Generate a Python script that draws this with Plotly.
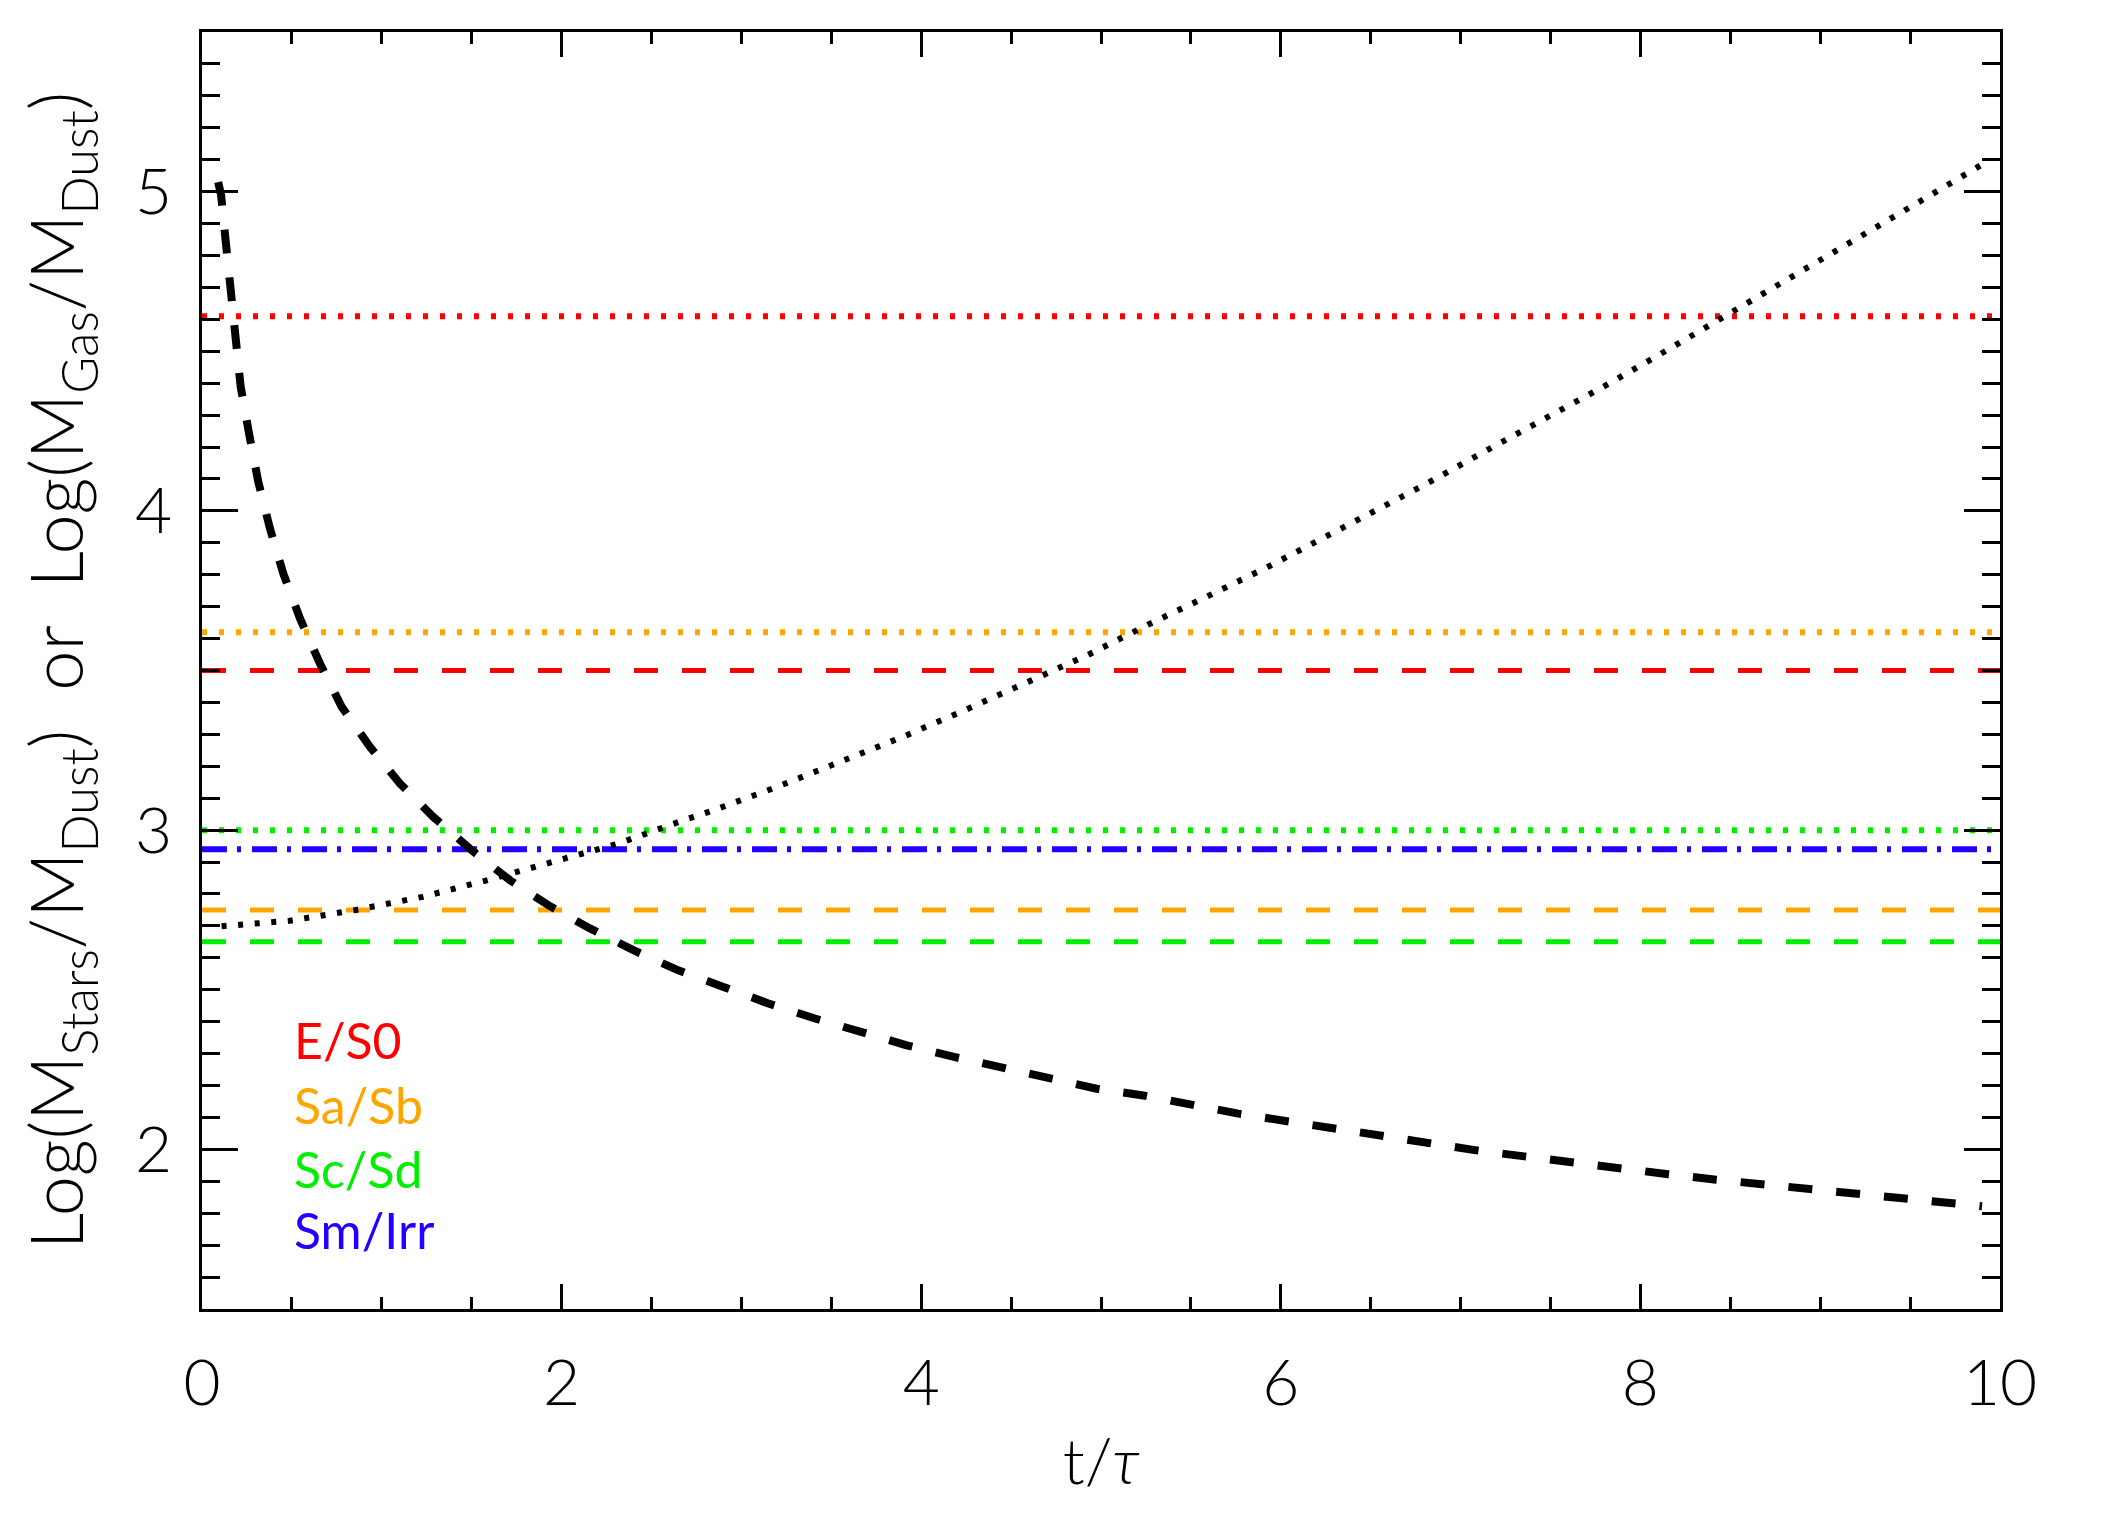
import plotly.graph_objects as go

# ---------------- data ----------------
# Black dashed curve: Log(M_Stars/M_Dust) vs t/tau
stars_t = [0.09, 0.106, 0.133, 0.16, 0.184, 0.215, 0.263, 0.313, 0.378, 0.452, 0.545,
           0.656, 0.777, 0.934, 1.101, 1.287, 1.5, 1.713, 1.926, 2.158, 2.399, 2.649,
           2.9, 3.15, 3.409, 3.66, 3.919, 4.188, 4.448, 4.707, 4.976, 5.235,
           5.551, 5.764, 6.027, 6.289, 6.558, 6.822, 7.088, 7.355, 7.622, 7.886,
           8.156, 8.422, 8.689, 8.956, 9.22, 9.49, 9.75, 9.9]
stars_v = [5.03, 4.99, 4.838, 4.69, 4.535, 4.389, 4.238, 4.091, 3.945, 3.804, 3.663,
           3.522, 3.386, 3.261, 3.146, 3.041, 2.937, 2.843, 2.765, 2.692, 2.624, 2.561,
           2.509, 2.457, 2.41, 2.368, 2.326, 2.289, 2.256, 2.222, 2.19, 2.169,
           2.133, 2.112, 2.089, 2.065, 2.041, 2.018, 1.997, 1.978, 1.958, 1.94,
           1.922, 1.905, 1.889, 1.874, 1.858, 1.842, 1.83, 1.822]

# Black dotted curve: Log(M_Gas/M_Dust) vs t/tau
gas_t = [0.109, 0.486, 0.857, 1.227, 1.598, 1.95, 2.316, 2.668, 2.844, 3.196, 3.548,
         3.897, 4.244, 4.587, 4.924, 5.263, 5.523, 5.606, 5.94, 6.357, 6.774, 7.182,
         7.599, 7.757, 7.846, 8.165, 8.489, 8.817, 9.138, 9.466, 9.787, 9.9]
gas_v = [2.699, 2.716, 2.75, 2.791, 2.845, 2.9, 2.958, 3.029, 3.062, 3.135, 3.214,
         3.292, 3.376, 3.461, 3.548, 3.644, 3.712, 3.736, 3.828, 3.95, 4.074, 4.201,
         4.328, 4.381, 4.405, 4.509, 4.616, 4.721, 4.831, 4.94, 5.047, 5.085]

# Observed morphological-type levels
types = ["E/S0", "Sa/Sb", "Sc/Sd", "Sm/Irr"]
type_colors = ["#FF0000", "#FFA500", "#00EE00", "#2200FF"]
stars_dust_level = [3.50, 2.75, 2.65, None]   # dashed
gas_dust_level = [4.61, 3.62, 3.00, None]     # dotted
irr_level = [None, None, None, 2.94]          # dash-dot

x_span = [0, 10]
x_ticks = [0, 2, 4, 6, 8, 10]
y_ticks = [2, 3, 4, 5]

# ---------------- figure ----------------
fig = go.Figure()

for name, col, sd, gd, ir in zip(types, type_colors, stars_dust_level, gas_dust_level, irr_level):
    if gd is not None:
        fig.add_trace(go.Scatter(x=x_span, y=[gd, gd], mode="lines",
                                 line=dict(color=col, width=6, dash="5px,12px"),
                                 showlegend=False, hoverinfo="skip"))
    if sd is not None:
        fig.add_trace(go.Scatter(x=x_span, y=[sd, sd], mode="lines",
                                 line=dict(color=col, width=5, dash="24px,24px"),
                                 showlegend=False, hoverinfo="skip"))
    if ir is not None:
        fig.add_trace(go.Scatter(x=x_span, y=[ir, ir], mode="lines",
                                 line=dict(color=col, width=6, dash="25px,10px,4px,11px"),
                                 showlegend=False, hoverinfo="skip"))

fig.add_trace(go.Scatter(x=stars_t, y=stars_v, mode="lines",
                         line=dict(color="black", width=8, dash="24px,24px"),
                         showlegend=False))
fig.add_trace(go.Scatter(x=gas_t, y=gas_v, mode="lines",
                         line=dict(color="black", width=6, dash="5px,11.6px"),
                         showlegend=False))

# type labels (text legend)
label_y = [2.342, 2.138, 1.94, 1.746]
for name, col, ly in zip(types, type_colors, label_y):
    fig.add_annotation(x=0.5, y=ly, xref="x", yref="y", text=name, showarrow=False,
                       xanchor="left", yanchor="middle",
                       font=dict(family="Lato, DejaVu Sans, sans-serif", size=50, color=col))

axis_font = dict(family="Lato, Liberation Sans, sans-serif", size=64, color="black", weight=300)

fig.update_xaxes(range=[0, 10], tickvals=x_ticks, ticktext=[str(v) for v in x_ticks],
                 ticks="inside", ticklen=25, tickwidth=2.5, tickcolor="black",
                 minor=dict(dtick=0.5, tick0=0, ticks="inside", ticklen=12, tickwidth=2.5, tickcolor="black"),
                 showline=True, linecolor="black", linewidth=3, mirror="allticks",
                 showgrid=False, zeroline=False, tickfont=axis_font, ticklabelstandoff=16,
                 title=dict(text="t/<i>τ</i>", font=axis_font, standoff=22))
fig.update_yaxes(range=[1.5, 5.5], tickvals=y_ticks, ticktext=[str(v) for v in y_ticks],
                 ticks="inside", ticklen=36, tickwidth=2.5, tickcolor="black",
                 minor=dict(dtick=0.1, tick0=0, ticks="inside", ticklen=18, tickwidth=2.5, tickcolor="black"),
                 showline=True, linecolor="black", linewidth=3, mirror="allticks",
                 showgrid=False, zeroline=False, tickfont=axis_font, ticklabelstandoff=14,
                 title=dict(text="Log(M<sub>Stars</sub>/M<sub>Dust</sub>)  or  Log(M<sub>Gas</sub>/M<sub>Dust</sub>)",
                            font=dict(family="Lato, Liberation Sans, sans-serif", size=72, color="black", weight=300),
                            standoff=28))

fig.update_layout(width=2107, height=1521,
                  margin=dict(l=202, r=107, t=32, b=212),
                  paper_bgcolor="white", plot_bgcolor="white",
                  showlegend=False)

fig.write_html("out.html")
